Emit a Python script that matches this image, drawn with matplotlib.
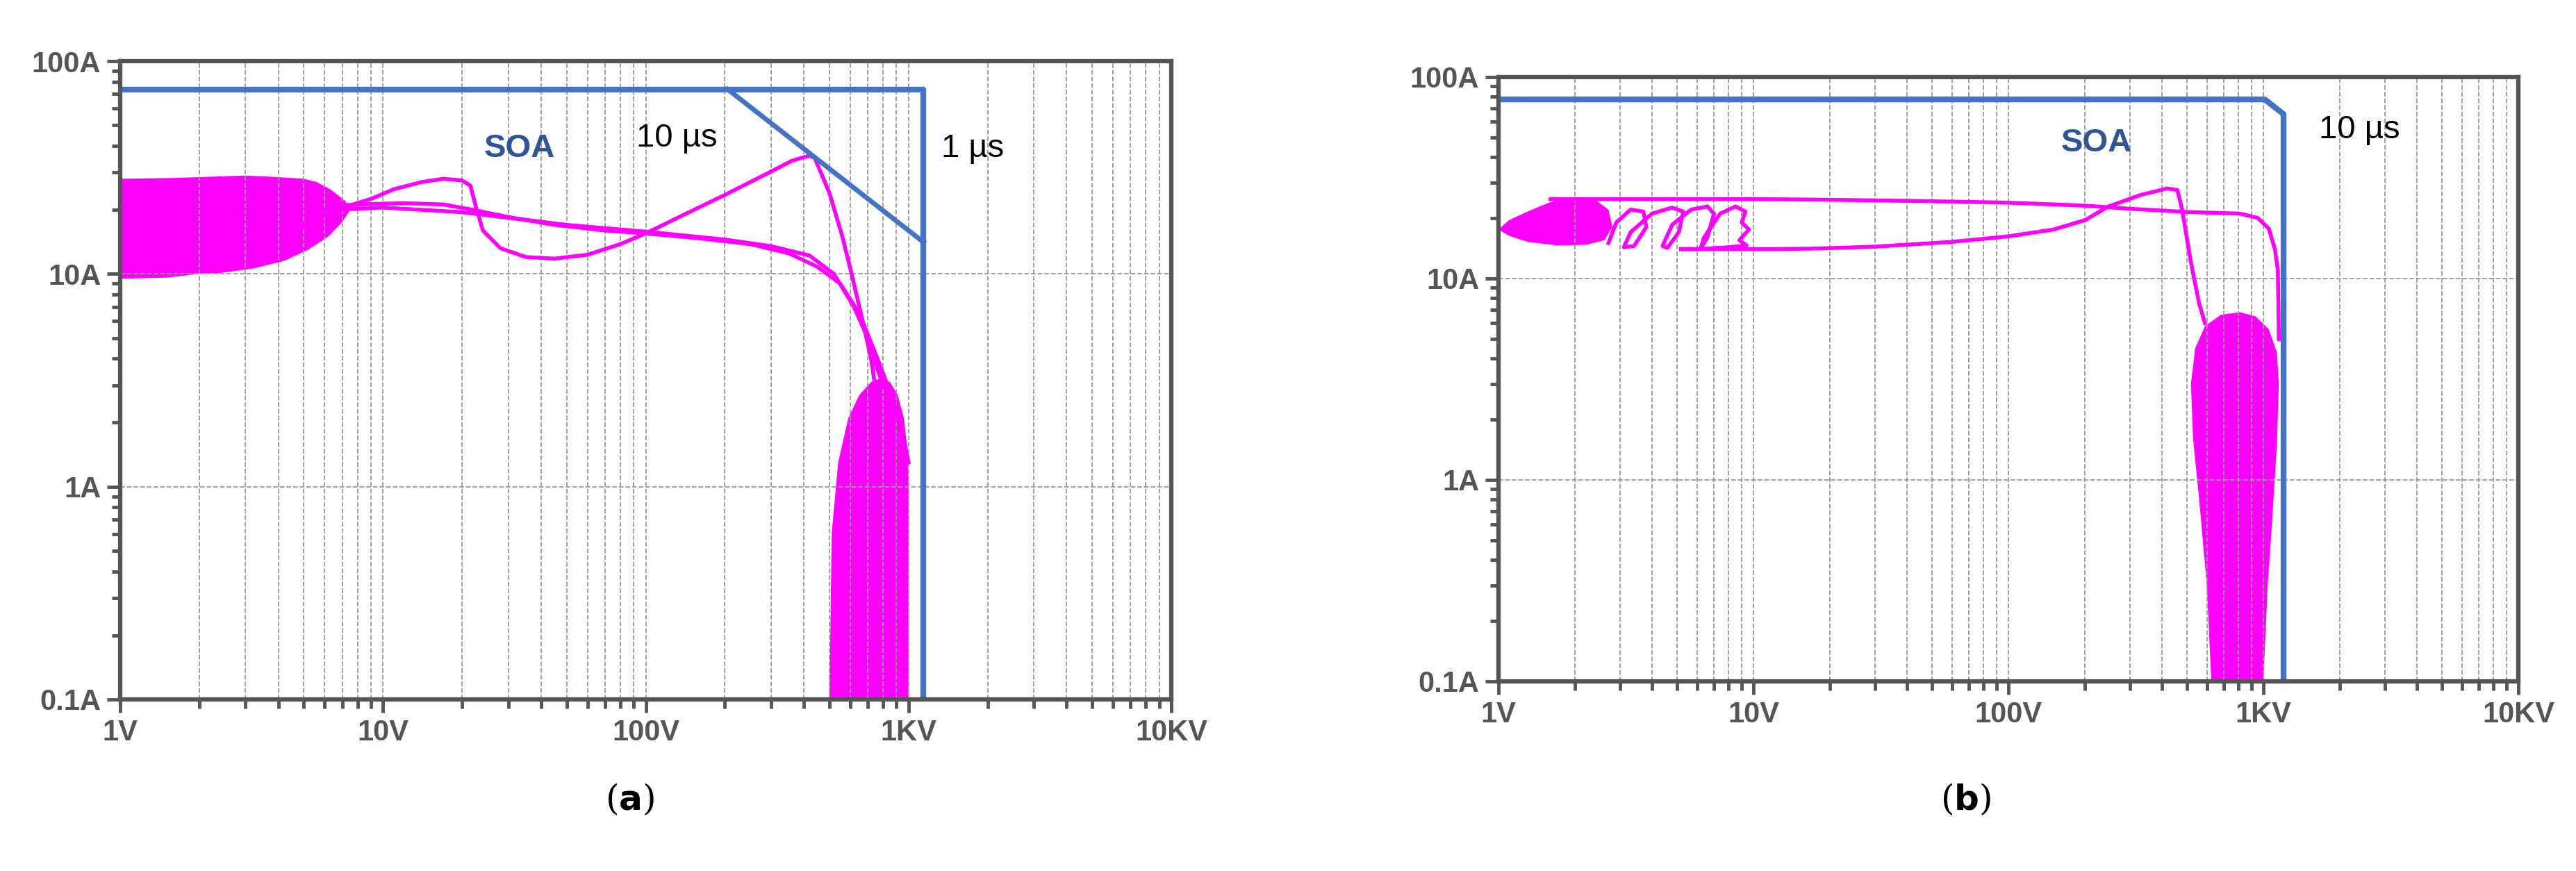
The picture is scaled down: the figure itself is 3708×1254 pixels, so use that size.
import matplotlib.pyplot as plt
from matplotlib.ticker import LogLocator, NullFormatter

plt.rcParams['font.family'] = ['Liberation Sans', 'DejaVu Sans']

MAGENTA = '#ff00ff'
BLUE = '#4472c4'
GRAY = '#555555'

# ---------------- panel (a) data ----------------
a_soa_v = [1, 205, 1140, 1140, 1140]
a_soa_i = [73.7, 73.7, 73.7, 14.1, 0.1]
a_diag_v = [205, 1140]
a_diag_i = [73.7, 14.1]

a_blob_v = [1, 1.5, 2, 3, 4, 5, 5.6, 6.3, 7.2, 7.5, 7.0, 6.2, 5.2, 4.2, 3.2, 2.4, 2, 1.5, 1]
a_blob_i = [28, 28.2, 28.5, 29, 28.5, 28, 27, 25, 22, 20, 17.5, 15, 13, 11.5, 10.6, 10.1, 10, 9.6, 9.5]

a_c1_v = [7.5, 9, 11, 14, 17, 20, 21.5, 22.5, 24, 28, 35, 45, 60, 80, 100, 140, 200, 280, 360, 420, 440, 500, 560, 620, 680, 720, 740]
a_c1_i = [21, 22.5, 25, 27, 28, 27.5, 26, 21, 16, 13.2, 12, 11.8, 12.3, 13.8, 15.5, 19, 23.5, 29, 34, 36, 35, 24, 15, 9, 5.5, 4, 3.2]
a_c2_v = [6, 7, 9, 12, 17, 22, 30, 45, 70, 100, 160, 250, 350, 450, 550, 650, 750, 850, 950, 1000]
a_c2_i = [20, 21, 21.3, 21.5, 21.2, 20, 18.5, 17, 16, 15.5, 14.7, 13.8, 12.5, 10.8, 9, 6.5, 4.2, 2.8, 1.8, 1.3]
a_c3_v = [5, 6.5, 10, 20, 50, 100, 200, 300, 420, 520, 620, 700, 760, 800]
a_c3_i = [17, 20, 20.5, 19.5, 17, 15.8, 14.5, 13.5, 12.2, 10, 7, 5, 3.6, 3]

a_tail_v = [500, 510, 540, 590, 650, 720, 790, 850, 910, 960, 990, 1000, 1000, 500]
a_tail_i = [0.1, 0.6, 1.3, 2.1, 2.7, 3.1, 3.25, 3.1, 2.7, 2.1, 1.5, 1.0, 0.1, 0.1]

# ---------------- panel (b) data ----------------
b_soa_v = [1, 1013, 1200, 1200]
b_soa_i = [77.5, 77.5, 65.5, 0.104]

b_blob_v = [1, 1.1, 1.3, 1.6, 2.0, 2.4, 2.7, 2.8, 2.6, 2.2, 1.7, 1.3, 1.1, 1]
b_blob_i = [17.5, 19.5, 21.5, 24, 25, 24.5, 22, 18, 15.5, 14.7, 14.6, 15.2, 16.3, 17.5]

b_top_v = [1.6, 3, 6, 10, 20, 50, 100, 200, 300, 500, 810, 950, 1050, 1110, 1140, 1150]
b_top_i = [24.8, 24.8, 24.8, 24.8, 24.6, 24.2, 23.8, 23, 22.2, 21.4, 21, 20, 17.7, 14, 11, 5]
b_spiral_v = [2.7, 2.9, 3.3, 3.7, 3.8, 3.4, 3.1, 3.3, 4.0, 4.8, 5.3, 5.1, 4.6, 4.4, 4.8, 5.7, 6.6, 7.0, 6.6, 6.2, 6.4, 7.4, 8.5, 9.3, 9.0, 9.6, 8.8, 9.4, 8.0, 6.0, 5.2]
b_spiral_i = [15, 19, 22, 21.5, 18, 14.5, 14.3, 17, 21, 22.5, 21.5, 17, 14.2, 14.5, 18.5, 22, 22.8, 21, 16, 14, 16, 21, 22.8, 21.5, 19, 17.5, 15.5, 14.6, 14.3, 14.0, 14.0]
b_bottom_v = [5.2, 8, 12, 18, 30, 60, 100, 150, 200, 245, 330, 420, 460, 480, 520, 560, 590]
b_bottom_i = [14.0, 14.0, 14.0, 14.1, 14.4, 15.2, 16.2, 17.5, 19.5, 22.7, 26, 28, 27.5, 22, 12, 7.5, 6]

b_tail_v = [625, 600, 560, 530, 520, 540, 590, 680, 810, 930, 1050, 1130, 1150, 1130, 1080, 1040, 1000, 625]
b_tail_i = [0.1, 0.3, 0.8, 1.6, 3, 4.5, 5.8, 6.6, 6.8, 6.5, 5.6, 4.3, 3, 1.5, 0.6, 0.3, 0.1, 0.1]

fig = plt.figure(figsize=(37.08, 12.54), dpi=100)
W, H = 3708, 1254
ax_a = fig.add_axes([173 / W, 1 - 1007 / H, (1686 - 173) / W, (1007 - 88) / H])
ax_b = fig.add_axes([2157 / W, 1 - 981 / H, (3625 - 2157) / W, (981 - 111) / H])


def style(ax):
    ax.set_xscale('log')
    ax.set_yscale('log')
    ax.set_xlim(1, 10000)
    ax.set_ylim(0.1, 100)
    for s in ax.spines.values():
        s.set_color(GRAY)
        s.set_linewidth(4.5)
    ax.xaxis.set_minor_locator(LogLocator(base=10, subs=range(2, 10), numticks=100))
    ax.yaxis.set_minor_locator(LogLocator(base=10, subs=range(2, 10), numticks=100))
    ax.xaxis.set_minor_formatter(NullFormatter())
    ax.yaxis.set_minor_formatter(NullFormatter())
    ax.set_xticks([1, 10, 100, 1000, 10000])
    ax.set_xticklabels(['1V', '10V', '100V', '1KV', '10KV'])
    ax.set_yticks([0.1, 1, 10, 100])
    ax.set_yticklabels(['0.1A', '1A', '10A', '100A'])
    ax.tick_params(which='major', direction='out', length=14, width=3.5, color=GRAY,
                   labelsize=30, labelcolor=GRAY, pad=6)
    ax.tick_params(which='minor', direction='out', length=9, width=3.5, color=GRAY)
    for lab in ax.get_xticklabels() + ax.get_yticklabels():
        lab.set_fontweight('bold')
    ax.grid(True, which='major', color='#999999', linestyle='--', linewidth=1.3)
    ax.grid(True, which='minor', axis='x', color='#999999', linestyle='--', linewidth=1.3)


style(ax_a)
style(ax_b)

# panel (a)
ax_a.fill(a_blob_v, a_blob_i, color=MAGENTA, lw=0)
ax_a.fill(a_tail_v, a_tail_i, color=MAGENTA, lw=0)
for v, i in [(a_c1_v, a_c1_i), (a_c2_v, a_c2_i), (a_c3_v, a_c3_i)]:
    ax_a.plot(v, i, color=MAGENTA, lw=4)
ax_a.plot(a_soa_v, a_soa_i, color=BLUE, lw=6)
ax_a.plot(a_diag_v, a_diag_i, color=BLUE, lw=5)
ax_a.text(33, 38.7, 'SOA', color='#2f5597', fontsize=34, fontweight='bold', ha='center', va='center')
ax_a.text(131, 43.4, '10 µs', color='black', fontsize=34, ha='center', va='center')
ax_a.text(1330, 38.7, '1 µs', color='black', fontsize=34, ha='left', va='center')

# panel (b)
ax_b.fill(b_blob_v, b_blob_i, color=MAGENTA, lw=0)
ax_b.fill(b_tail_v, b_tail_i, color=MAGENTA, lw=0)
for v, i in [(b_top_v, b_top_i), (b_spiral_v, b_spiral_i), (b_bottom_v, b_bottom_i)]:
    ax_b.plot(v, i, color=MAGENTA, lw=4)
ax_b.plot(b_soa_v, b_soa_i, color=BLUE, lw=6)
ax_b.text(221, 47, 'SOA', color='#2f5597', fontsize=34, fontweight='bold', ha='center', va='center')
ax_b.text(2380, 54.6, '10 µs', color='black', fontsize=34, ha='center', va='center')

# captions
fig.text(906 / W, 1 - 1152 / H, r'($\mathbf{a}$)', fontsize=36, family='DejaVu Serif', ha='center', va='center')
fig.text(2829 / W, 1 - 1152 / H, r'($\mathbf{b}$)', fontsize=36, family='DejaVu Serif', ha='center', va='center')

fig.savefig('out.png', dpi=100, facecolor='white')
